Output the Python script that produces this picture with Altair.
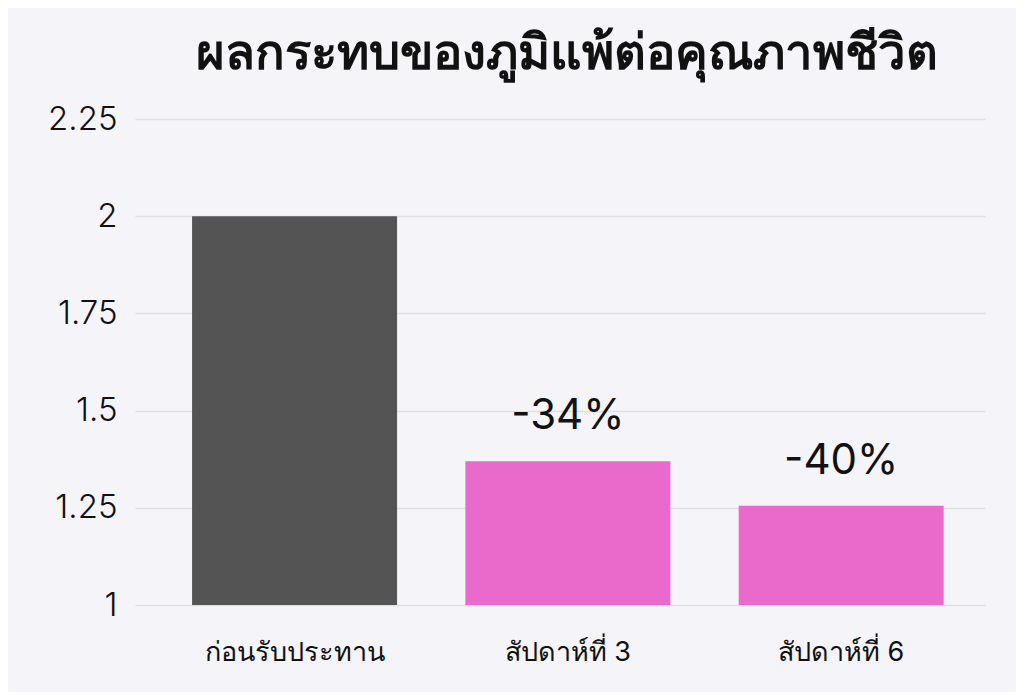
import pandas as pd
import altair as alt

categories = ['ก่อนรับประทาน', 'สัปดาห์ที่ 3', 'สัปดาห์ที่ 6']
scores = [2.0, 1.37, 1.255]
change_labels = ['', '-34%', '-40%']
y_ticks = [1, 1.25, 1.5, 1.75, 2, 2.25]

df = pd.DataFrame({'period': categories, 'score': scores, 'change': change_labels})

FONT = 'Inter'

base = alt.Chart(df).encode(
    x=alt.X('period:N', sort=categories, title=None,
            scale=alt.Scale(paddingInner=0.25, paddingOuter=0.18, align=0.58),
            axis=alt.Axis(labelAngle=0, labelFontSize=27, labelColor='#111111',
                          labelPadding=34, labelLimit=0, ticks=False, domain=False,
                          labelFont=FONT)),
)

bars = base.mark_bar(clip=True).encode(
    y=alt.Y('score:Q', title=None,
            scale=alt.Scale(domain=[1, 2.25], zero=False, nice=False),
            axis=alt.Axis(values=y_ticks, labelExpr="'' + datum.value",
                          labelFontSize=33, labelFontWeight=300,
                          labelColor='#111111', labelPadding=18,
                          ticks=False, domain=False, gridColor='#dfdfe6',
                          gridWidth=1.5, labelFont=FONT)),
    color=alt.Color('period:N', sort=categories, legend=None,
                    scale=alt.Scale(domain=categories,
                                    range=['#545454', '#e96acb', '#e96acb'])),
)

text = base.mark_text(baseline='bottom', dy=-23, fontSize=42, color='#111111',
                      font=FONT).encode(
    y=alt.Y('score:Q'),
    text='change:N',
)

chart = (bars + text).properties(
    width=850,
    height=486,
    background='#f4f4f9',
    autosize=alt.AutoSizeParams(type='none'),
    padding={'left': 127, 'top': 111, 'right': 31, 'bottom': 87},
    title=alt.TitleParams('ผลกระทบของภูมิแพ้ต่อคุณภาพชีวิต', fontSize=49,
                          fontWeight='bold', color='#111111', font=FONT,
                          anchor='middle', offset=24, dx=7),
).configure_view(stroke=None)

chart.save("out.html", embed_options={"renderer": "svg", "actions": False})
